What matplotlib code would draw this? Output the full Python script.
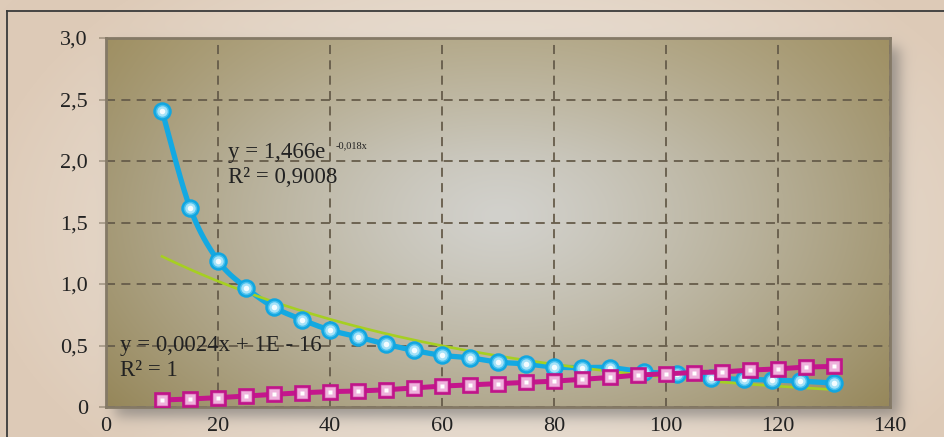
import numpy as np
import matplotlib
matplotlib.use("Agg")
import matplotlib.pyplot as plt
from matplotlib.lines import Line2D

# ---------------- data ----------------
blue_x = [10, 15, 20, 25, 30, 35, 40, 45, 50, 55, 60, 65, 70, 75, 80, 85, 90,
          96, 102, 108, 114, 119, 124, 130]
blue_y = [2.41, 1.62, 1.19, 0.97, 0.81, 0.71, 0.625, 0.57, 0.51, 0.46, 0.42, 0.40,
          0.365, 0.35, 0.325, 0.32, 0.32, 0.285, 0.27, 0.235, 0.225, 0.22, 0.21, 0.195]
pink_x = [10, 15, 20, 25, 30, 35, 40, 45, 50, 55, 60, 65, 70, 75, 80, 85, 90,
          95, 100, 105, 110, 115, 120, 125, 130]
pink_y = [0.057, 0.065, 0.076, 0.089, 0.103, 0.116, 0.125, 0.13, 0.14, 0.155, 0.17,
          0.18, 0.19, 0.20, 0.21, 0.225, 0.24, 0.26, 0.27, 0.28, 0.285, 0.30, 0.31,
          0.325, 0.33]
exp_a, exp_b = 1.466, -0.018          # trendline coefficients from the label
trend_range = (10, 130)
x_ticks = [0, 20, 40, 60, 80, 100, 120, 140]
y_ticks = [0, 0.5, 1.0, 1.5, 2.0, 2.5, 3.0]
y_ticklabels = ['0', '0,5', '1,0', '1,5', '2,0', '2,5', '3,0']
eq1 = "y = 1,466e"
eq1_exp = "-0,018x"
r1 = "R² = 0,9008"
eq2 = "y = 0,0024x + 1E - 16"
r2 = "R² = 1"

W, H, DPI = 944, 437, 100
plt.rcParams['font.family'] = ['Liberation Serif', 'DejaVu Serif']

fig = plt.figure(figsize=(W / DPI, H / DPI), dpi=DPI)

# plot area in pixels
L, R, T, B = 106, 890, 38, 407

# ---------- figure background (beige radial + shadow) ----------
yy, xx = np.mgrid[0:H, 0:W].astype(float)
t = np.sqrt(((xx - 500) / 520) ** 2 + ((yy - 230) / 330) ** 2)
f = np.clip(t, 0, 1) ** 1.4
light = np.array([238, 233, 226]) / 255
beige = np.array([222, 203, 184]) / 255
bg = light[None, None, :] * (1 - f[..., None]) + beige[None, None, :] * f[..., None]
s = 9.0
def soft(z):
    return 0.5 * (1 + np.tanh(1.1 * z))
off = 9
sh = (soft((xx - (L + off)) / s) - soft((xx - (R + off)) / s)) * \
     (soft((yy - (T + off)) / s) - soft((yy - (B + off)) / s))
sh = np.clip(sh, 0, 1) * 0.55
shade = np.array([95, 95, 95]) / 255
bg = bg * (1 - sh[..., None]) + shade[None, None, :] * sh[..., None]
fig.figimage(bg, xo=0, yo=0, origin='upper', zorder=-10)

# outer frame lines
fig.add_artist(Line2D([7 / W, 7 / W], [0, 1 - 11 / H], color='#3a3a3a', lw=1.3,
                      transform=fig.transFigure, zorder=-5))
fig.add_artist(Line2D([7 / W, 1], [1 - 11 / H, 1 - 11 / H], color='#3a3a3a', lw=1.3,
                      transform=fig.transFigure, zorder=-5))

ax = fig.add_axes([L / W, 1 - B / H, (R - L) / W, (B - T) / H], zorder=1)
ax.set_xlim(0, 140)
ax.set_ylim(0, 3)

# ---------- plot area gradient ----------
ph, pw = B - T, R - L
gy, gx = np.mgrid[0:ph, 0:pw].astype(float)
gx += L
gy += T
tt = np.sqrt(((gx - 500) / 430) ** 2 + ((gy - 215) / 270) ** 2)
ff = np.clip(tt / 1.15, 0, 1) ** 1.25
c_center = np.array([210, 209, 204]) / 255
c_edge = np.array([150, 135, 90]) / 255
pimg = c_center[None, None, :] * (1 - ff[..., None]) + c_edge[None, None, :] * ff[..., None]
warm = np.clip(1 - (gy - T) / 120, 0, 1) * 0.25
tan = np.array([182, 164, 116]) / 255
pimg = pimg * (1 - warm[..., None]) + tan[None, None, :] * warm[..., None]
ax.imshow(pimg, extent=[0, 1, 0, 1], transform=ax.transAxes, aspect='auto',
          zorder=0, interpolation='bilinear')
ax.patch.set_visible(False)

# grid
ax.set_axisbelow(True)
gcol = (0.40, 0.36, 0.29, 0.45)
ax.grid(True, color=gcol, linestyle=(0, (5, 3.5)), linewidth=1.3)

ax.set_xticks(x_ticks)
ax.set_xticklabels([str(v) for v in x_ticks])
ax.set_yticks(y_ticks)
ax.set_yticklabels(y_ticklabels)
ax.tick_params(axis='y', length=5, width=1.3, color=gcol, pad=8, labelsize=16,
               labelcolor='#222222')
ax.tick_params(axis='x', length=0, pad=7, labelsize=16, labelcolor='#222222')
for sp in ax.spines.values():
    sp.set_color('#847966')
    sp.set_linewidth(2)

# ---------- series ----------
def catmull(xs, ys, n=20):
    P = np.column_stack([xs, ys]).astype(float)
    P = np.vstack([P[0], P, P[-1]])
    out = []
    for i in range(1, len(P) - 2):
        p0, p1, p2, p3 = P[i - 1], P[i], P[i + 1], P[i + 2]
        tt_ = np.linspace(0, 1, n, endpoint=False)[:, None]
        m1 = (p2 - p0) / 2
        m2 = (p3 - p1) / 2
        h00 = 2 * tt_**3 - 3 * tt_**2 + 1
        h10 = tt_**3 - 2 * tt_**2 + tt_
        h01 = -2 * tt_**3 + 3 * tt_**2
        h11 = tt_**3 - tt_**2
        out.append(h00 * p1 + h10 * m1 + h01 * p2 + h11 * m2)
    out.append(P[-2][None, :])
    out = np.vstack(out)
    return out[:, 0], out[:, 1]

sx, sy = catmull(blue_x, blue_y)
ax.plot(sx, sy, color='#14a9e2', lw=3.8, zorder=3, solid_capstyle='round')

tx = np.linspace(trend_range[0], trend_range[1], 200)
ax.plot(tx, exp_a * np.exp(exp_b * tx), color='#a6cf22', lw=1.9, zorder=3.5)

ax.plot(blue_x, blue_y, ls='none', marker='o', ms=11.5, mfc='#48c0ee',
        mec='#12a6e0', mew=1.8, zorder=4)
ax.plot(blue_x, blue_y, ls='none', marker='o', ms=7.5, mfc='#a6e2f8',
        mec='none', zorder=4.1)
ax.plot(blue_x, blue_y, ls='none', marker='o', ms=4, mfc='#f4fcff',
        mec='none', zorder=4.2)

ax.plot(pink_x, pink_y, color='#c4168c', lw=3.6, zorder=5)
ax.plot(pink_x, pink_y, ls='none', marker='s', ms=10, mfc='#d86cb6',
        mec='#c0148a', mew=1.9, zorder=6)
ax.plot(pink_x, pink_y, ls='none', marker='s', ms=6.5, mfc='#eeb2dc',
        mec='none', zorder=6.1)
ax.plot(pink_x, pink_y, ls='none', marker='s', ms=3.5, mfc='#ffffff',
        mec='none', zorder=6.2)

# ---------- annotations ----------
tc = '#222222'
ax.text(21.8, 2.07, eq1, fontsize=16.5, color=tc, va='center', ha='left', zorder=2)
ax.text(41.0, 2.12, eq1_exp, fontsize=7.5, color=tc, va='center', ha='left', zorder=2)
ax.text(21.8, 1.865, r1, fontsize=16.5, color=tc, va='center', ha='left', zorder=2)
ax.text(2.5, 0.50, eq2, fontsize=16.5, color=tc, va='center', ha='left', zorder=2)
ax.text(2.5, 0.30, r2, fontsize=16.5, color=tc, va='center', ha='left', zorder=2)

fig.savefig('out.png', dpi=DPI)
